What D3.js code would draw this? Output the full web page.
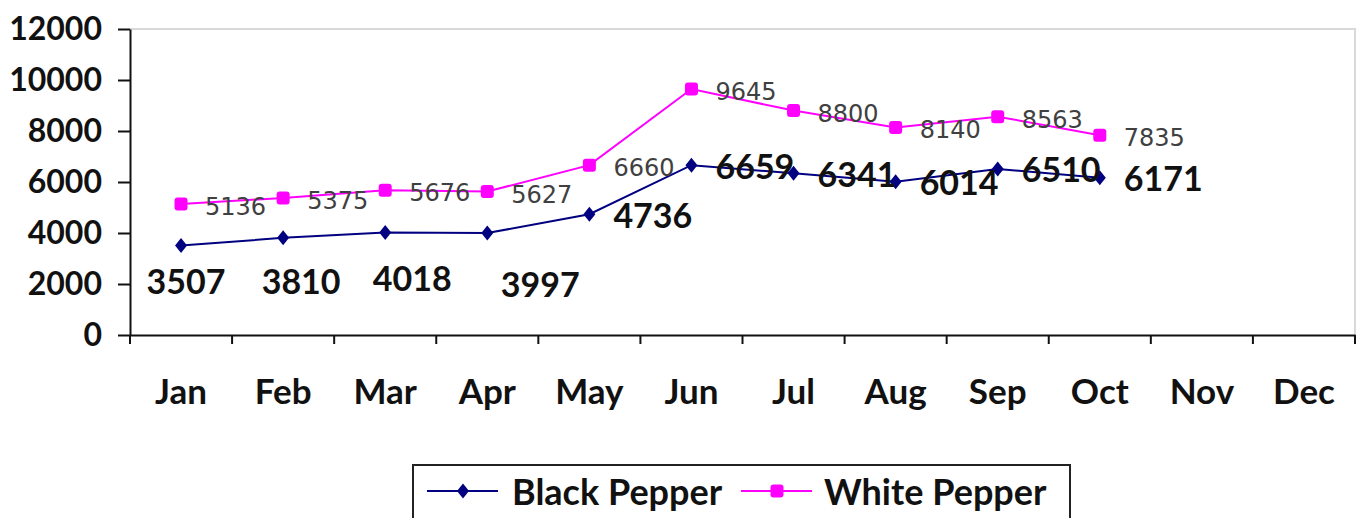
<!DOCTYPE html>
<html>
<head>
<meta charset="utf-8">
<script src="https://cdn.jsdelivr.net/npm/d3@7"></script>
<style>
  body { margin: 0; background: #fff; }
  svg { display: block; }
  .axis text { font-family: Lato, "Open Sans", sans-serif; font-weight: bold; fill: #111; }
</style>
</head>
<body>
<svg id="chart" width="1362" height="518"></svg>
<script>
// Data
const months = ['Jan', 'Feb', 'Mar', 'Apr', 'May', 'Jun', 'Jul', 'Aug', 'Sep', 'Oct', 'Nov', 'Dec'];
const blackPepper = [3507, 3810, 4018, 3997, 4736, 6659, 6341, 6014, 6510, 6171];
const whitePepper = [5136, 5375, 5676, 5627, 6660, 9645, 8800, 8140, 8563, 7835];
const yTicks = [0, 2000, 4000, 6000, 8000, 10000, 12000];
const seriesNames = ['Black Pepper', 'White Pepper'];

// Label placement for the first black pepper labels (dragged below the line in the original)
const blackLabelShift = [[5, 35], [18, 43], [27, 45], [53, 50]];

const svg = d3.select('#chart');
const plot = { left: 130, right: 1355, top: 29, bottom: 335 };

const x = d3.scaleBand().domain(months).range([plot.left, plot.right]);
const y = d3.scaleLinear().domain([0, 12000]).range([plot.bottom, plot.top]);
const cx = (d, i) => x(months[i]) + x.bandwidth() / 2;

// Plot area border (top + right)
svg.append('path')
    .attr('d', `M${plot.left},${plot.top}H${plot.right}V${plot.bottom}`)
    .attr('fill', 'none')
    .attr('stroke', '#d9d9d9')
    .attr('stroke-width', 2);

// Axes
const yAxis = d3.axisLeft(y).tickValues(yTicks).tickFormat(d3.format('d'))
    .tickSize(12).tickSizeOuter(0).tickPadding(16);
const yAxisG = svg.append('g').attr('class', 'axis').attr('transform', `translate(${plot.left},0)`).call(yAxis);
yAxisG.selectAll('text').style('font-size', '32px');

const xAxis = d3.axisBottom(x).tickSize(0).tickSizeOuter(0);
const xAxisG = svg.append('g').attr('class', 'axis').attr('transform', `translate(0,${plot.bottom})`).call(xAxis);
xAxisG.selectAll('text')
    .attr('y', 56).attr('dy', '0.36em')
    .style('font-size', '35px');

// Tick marks at band boundaries
xAxisG.selectAll('line.bound')
    .data(months.concat(['end']))
    .join('line')
    .attr('class', 'bound')
    .attr('x1', (d, i) => plot.left + i * x.bandwidth())
    .attr('x2', (d, i) => plot.left + i * x.bandwidth())
    .attr('y1', 0).attr('y2', 9)
    .attr('stroke', '#111').attr('stroke-width', 2);

svg.selectAll('.axis path.domain').attr('stroke', '#111').attr('stroke-width', 2);
svg.selectAll('.axis .tick line').attr('stroke', '#111').attr('stroke-width', 2);

const line = d3.line().x(cx).y(d => y(d));

// White pepper
svg.append('path').datum(whitePepper)
    .attr('d', line).attr('fill', 'none').attr('stroke', '#ff00ff').attr('stroke-width', 2);
svg.selectAll('rect.wp').data(whitePepper).join('rect')
    .attr('class', 'wp')
    .attr('x', (d, i) => cx(d, i) - 6.5).attr('y', d => y(d) - 6.5)
    .attr('width', 13).attr('height', 13).attr('rx', 3)
    .attr('fill', '#ff00ff');

// Black pepper
svg.append('path').datum(blackPepper)
    .attr('d', line).attr('fill', 'none').attr('stroke', '#000080').attr('stroke-width', 2);
const diamond = 'M0,-7.5L6,0L0,7.5L-6,0Z';
svg.selectAll('path.bp').data(blackPepper).join('path')
    .attr('class', 'bp')
    .attr('d', diamond)
    .attr('transform', (d, i) => `translate(${cx(d, i)},${y(d)})`)
    .attr('fill', '#000080');

// Data labels
svg.selectAll('text.wpl').data(whitePepper).join('text')
    .attr('class', 'wpl')
    .attr('x', (d, i) => cx(d, i) + 24)
    .attr('y', d => y(d) + 3)
    .attr('dominant-baseline', 'central')
    .style('font-family', '"DejaVu Sans", sans-serif')
    .style('font-size', '24px')
    .style('fill', '#404040')
    .text(d => d);

svg.selectAll('text.bpl').data(blackPepper).join('text')
    .attr('class', 'bpl')
    .attr('x', (d, i) => i < blackLabelShift.length ? cx(d, i) + blackLabelShift[i][0] : cx(d, i) + 24)
    .attr('y', (d, i) => i < blackLabelShift.length ? y(d) + blackLabelShift[i][1] : y(d))
    .attr('text-anchor', (d, i) => i < blackLabelShift.length ? 'middle' : 'start')
    .attr('dominant-baseline', 'central')
    .style('font-family', 'Lato, sans-serif')
    .style('font-weight', 'bold')
    .style('font-size', '34px')
    .style('fill', '#111')
    .text(d => d);

// Legend
const legend = svg.append('g');
legend.append('rect')
    .attr('x', 413).attr('y', 465).attr('width', 657).attr('height', 70)
    .attr('fill', '#fff').attr('stroke', '#222').attr('stroke-width', 2);

const legendItems = [
  { name: seriesNames[0], color: '#000080', x0: 427, tx: 512, marker: 'diamond' },
  { name: seriesNames[1], color: '#ff00ff', x0: 741, tx: 824, marker: 'square' }
];
const ly = 491;
legendItems.forEach(it => {
  legend.append('line')
      .attr('x1', it.x0).attr('x2', it.x0 + 71).attr('y1', ly).attr('y2', ly)
      .attr('stroke', it.color).attr('stroke-width', 2);
  if (it.marker === 'diamond') {
    legend.append('path').attr('d', diamond)
        .attr('transform', `translate(${it.x0 + 36},${ly})`).attr('fill', it.color);
  } else {
    legend.append('rect')
        .attr('x', it.x0 + 36 - 6.5).attr('y', ly - 6.5).attr('width', 13).attr('height', 13).attr('rx', 3)
        .attr('fill', it.color);
  }
  legend.append('text')
      .attr('x', it.tx).attr('y', ly)
      .attr('dominant-baseline', 'central')
      .style('font-family', 'Lato, sans-serif')
      .style('font-weight', 'bold')
      .style('font-size', '36px')
      .style('fill', '#111')
      .text(it.name);
});
</script>
</body>
</html>
